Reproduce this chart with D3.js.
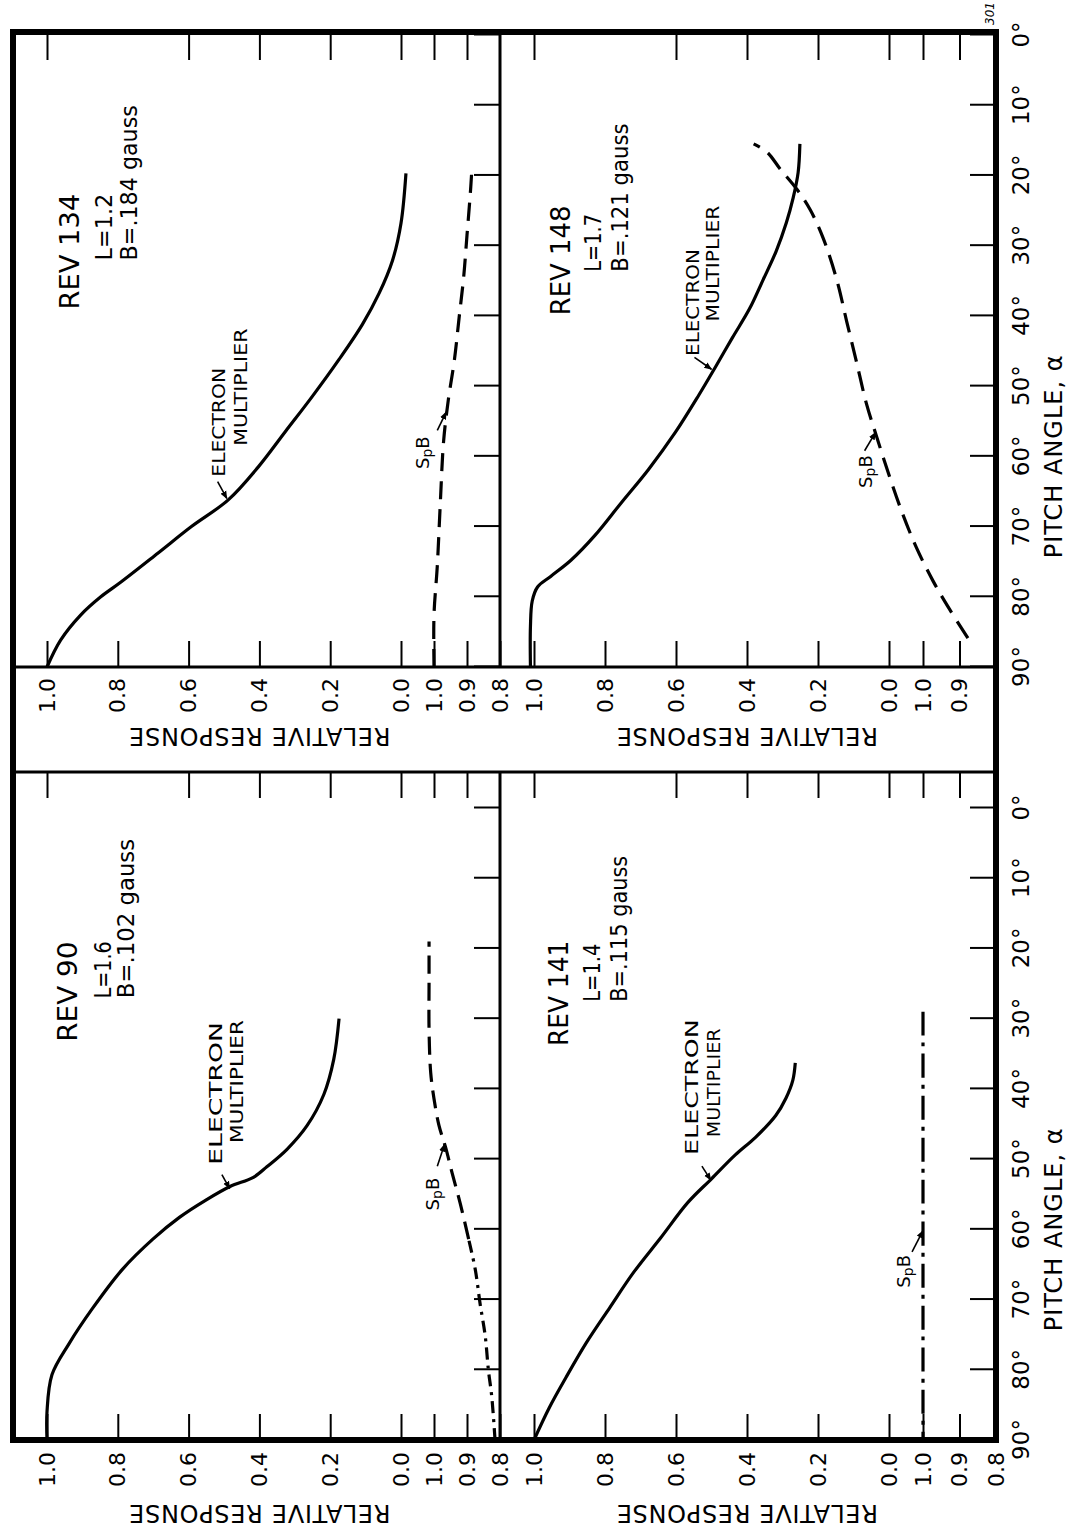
<!DOCTYPE html>
<html>
<head>
<meta charset="utf-8">
<script src="https://cdn.jsdelivr.net/npm/d3@7"></script>
<style>
  body { margin: 0; background: #fff; }
  svg { display: block; }
</style>
</head>
<body>
<svg></svg>
<script>
// tick values
const angleTicks = [90, 80, 70, 60, 50, 40, 30, 20, 10, 0];
const emTicks = [1.0, 0.8, 0.6, 0.4, 0.2, 0.0];
const spbTicks = [1.0, 0.9, 0.8];

// [pitch angle, relative response]
const rev90Em = [[90, 1.0], [86, 1.0], [80.7, 0.986], [76.3, 0.938], [71.3, 0.872], [65.7, 0.787],
  [61.4, 0.701], [58.3, 0.626], [55.8, 0.55], [53.9, 0.483], [52.6, 0.417], [51.1, 0.379],
  [48.6, 0.322], [45.2, 0.265], [40.8, 0.218], [35.8, 0.19], [30, 0.175]];
const rev90Spb = [[90, 0.815], [83.8, 0.825], [80.1, 0.835], [75.1, 0.845], [70.7, 0.86], [65.7, 0.875],
  [61.4, 0.895], [56.4, 0.92], [52, 0.945], [48.3, 0.965], [45.2, 0.985], [41.4, 1.0],
  [37.7, 1.01], [31.5, 1.015], [25.2, 1.015], [19, 1.015]];

const rev141Em = [[90, 1.0], [85.4, 0.957], [81.1, 0.91], [76.1, 0.852], [71.1, 0.786], [66.1, 0.719],
  [61.2, 0.643], [56.2, 0.567], [52.8, 0.5], [49.4, 0.433], [46.9, 0.376], [43.8, 0.319],
  [41.3, 0.29], [38.8, 0.271], [36.3, 0.264]];
const rev141Spb = [[29, 1.0], [45, 1.0], [60, 1.0], [75, 1.0], [90, 1.0]];

const rev134Em = [[90, 1.0], [86.2, 0.962], [82.6, 0.905], [80, 0.848], [77.9, 0.791], [73.8, 0.687],
  [70, 0.592], [66.2, 0.488], [61.5, 0.403], [56.5, 0.327], [51.5, 0.251], [46.2, 0.175],
  [41.2, 0.109], [36.8, 0.062], [32.1, 0.024], [26.8, 0.0], [19.7, -0.014]];
const rev134Spb = [[90, 1.0], [82.6, 1.0], [75.6, 0.99], [66.8, 0.981], [57.9, 0.971], [52.1, 0.957],
  [46.2, 0.938], [40.3, 0.924], [34.4, 0.91], [28.5, 0.9], [22.6, 0.89], [19.7, 0.886]];

const rev148Em = [[90, 1.01], [84.2, 1.01], [80.6, 1.005], [78.6, 0.99], [77.1, 0.953], [74.8, 0.896],
  [71.3, 0.829], [66.6, 0.754], [61.9, 0.678], [56.6, 0.602], [51.3, 0.536], [47.2, 0.488],
  [43.1, 0.441], [39, 0.393], [34.9, 0.355], [30.8, 0.318], [26.7, 0.289], [23.2, 0.27],
  [19.6, 0.256], [15.5, 0.251]];
const rev148Spb = [[85.9, 0.877], [81.8, 0.927], [77.7, 0.973], [73, 1.018], [68.3, 1.055], [63, 1.091],
  [57.2, 1.127], [52.5, 1.155], [46.6, 1.182], [40.8, 1.209], [34.9, 1.236], [29, 1.273],
  [24.9, 1.309], [22, 1.345], [19.1, 1.391], [16.7, 1.427], [15.5, 1.464]];

// the figure is drawn upright, then turned a quarter left like the scan
const font = "DejaVu Sans, Liberation Sans, sans-serif";
const cols = [
  { left: 91, a0: 723, right: 759, labelPad: 12, titleX: 26 },
  { left: 864, a0: 1496, right: 1497, labelPad: 11, titleX: 803 }
];
const rows = [
  { top: 13, em1: 47, em0: 401, spb1: 434, bottom: 500 },
  { top: 500, em1: 534, em0: 889, spb1: 923, bottom: 996 }
];

// label placement: [text, start angle, end angle, baseline value]
const panels = [
  {
    col: 0, row: 0, em: rev90Em, spb: rev90Spb,
    spbDash: "18,9", spbSplit: 61.4, spbDashLow: "12,6,3,6",
    head: [["REV 90", 33.3, 19.0, 0.915], ["L=1.6", 27.1, 19.0, 0.82], ["B=.102 gauss", 27.1, 4.4, 0.755]],
    elec: [50.8, 30.5, 0.507], mult: [47.7, 30.2, 0.447],
    emArrow: [[52.2, 0.506], [54.2, 0.484]],
    spbLabel: [57.3, 0.985], spbArrow: [[51.0, 0.99], [47.9, 0.968]]
  },
  {
    col: 0, row: 1, em: rev141Em, spb: rev141Spb,
    spbDash: "24,7,4,7",
    head: [["REV 141", 33.9, 18.9, 0.905], ["L=1.4", 27.6, 19.3, 0.814], ["B=.115 gauss", 27.6, 6.8, 0.738]],
    elec: [49.4, 30.1, 0.538], mult: [46.9, 31.4, 0.476],
    emArrow: [[51.0, 0.527], [53.0, 0.502]],
    spbLabel: [68.3, 1.035], spbArrow: [[63.2, 1.03], [60.2, 1.0]]
  },
  {
    col: 1, row: 0, em: rev134Em, spb: rev134Spb,
    spbDash: "18,10",
    head: [["REV 134", 39.1, 22.6, 0.91], ["L=1.2", 32.1, 22.6, 0.815], ["B=.184 gauss", 32.1, 10.0, 0.745]],
    elec: [62.9, 47.4, 0.498], mult: [58.5, 41.8, 0.436],
    emArrow: [[63.6, 0.518], [66.0, 0.492]],
    spbLabel: [61.8, 1.014], spbArrow: [[56.3, 0.99], [53.7, 0.963]]
  },
  {
    col: 1, row: 1, em: rev148Em, spb: rev148Spb,
    spbDash: "20,10", noBottomLabel: true,
    head: [["REV 148", 39.9, 24.3, 0.90], ["L=1.7", 33.7, 25.5, 0.81], ["B=.121 gauss", 33.7, 12.6, 0.735]],
    elec: [45.7, 30.5, 0.536], mult: [40.8, 24.3, 0.479],
    emArrow: [[45.9, 0.548], [47.6, 0.5]],
    spbLabel: [64.5, 1.141], spbArrow: [[59.2, 1.16], [56.6, 1.13]]
  }
];

const svg = d3.select("svg").attr("width", 1070).attr("height", 1531);
svg.append("rect").attr("width", 1070).attr("height", 1531).attr("fill", "#fff");

svg.append("defs").append("marker")
  .attr("id", "arrow")
  .attr("viewBox", "0 0 10 10")
  .attr("refX", 9)
  .attr("refY", 5)
  .attr("markerWidth", 5)
  .attr("markerHeight", 5)
  .attr("orient", "auto")
  .append("path")
  .attr("d", "M0,1L10,5L0,9z")
  .attr("fill", "#000");

const chart = svg.append("g")
  .attr("transform", "translate(0,1531) rotate(-90)")
  .attr("font-family", font)
  .attr("fill", "#000");

function styleAxis(g, size) {
  g.select(".domain").remove();
  g.selectAll(".tick line").attr("stroke", "#000").attr("stroke-width", 2);
  g.selectAll(".tick text").attr("fill", "#000").attr("font-size", size);
  g.attr("font-family", font);
}

panels.forEach(p => {
  const col = cols[p.col];
  const row = rows[p.row];
  const x = d3.scaleLinear().domain([90, 0]).range([col.left, col.a0]);
  const yEm = d3.scaleLinear().domain([0, 1]).range([row.em0, row.em1]);
  const ySpb = d3.scaleLinear().domain([0.8, 1.0]).range([row.bottom, row.spb1]);
  const g = chart.append("g");

  // value ticks with labels on the left edge
  const spbLabelled = p.noBottomLabel ? spbTicks.filter(t => t !== 0.8) : spbTicks;
  [[yEm, emTicks, emTicks], [ySpb, spbLabelled, spbTicks]].forEach(([y, ticks, allTicks]) => {
    g.append("g")
      .attr("transform", `translate(${col.left},0)`)
      .call(d3.axisLeft(y).tickValues(ticks).tickSize(-26).tickPadding(col.labelPad).tickFormat(d3.format(".1f")))
      .call(a => styleAxis(a, 22));
    g.append("g")
      .attr("transform", `translate(${col.right},0)`)
      .call(d3.axisRight(y).tickValues(allTicks.filter(t => t !== 0.8)).tickSize(-26).tickFormat(""))
      .call(a => styleAxis(a, 22));
  });

  // pitch angle ticks along the bottom of each panel
  const xAxis = d3.axisBottom(x).tickValues(angleTicks).tickSize(-26).tickPadding(17);
  if (p.row === 1) xAxis.tickFormat(d => d + "°");
  else xAxis.tickFormat("");
  g.append("g")
    .attr("transform", `translate(0,${row.bottom})`)
    .call(xAxis)
    .call(a => styleAxis(a, 23));

  // curves
  const emLine = d3.line().x(d => x(d[0])).y(d => yEm(d[1])).curve(d3.curveCatmullRom.alpha(0.5));
  const spbLine = d3.line().x(d => x(d[0])).y(d => ySpb(d[1])).curve(d3.curveCatmullRom.alpha(0.5));

  g.append("path")
    .attr("d", emLine(p.em))
    .attr("fill", "none")
    .attr("stroke", "#000")
    .attr("stroke-width", 3.2);

  if (p.spbSplit) {
    g.append("path")
      .attr("d", spbLine(p.spb.filter(d => d[0] >= p.spbSplit)))
      .attr("fill", "none").attr("stroke", "#000").attr("stroke-width", 3.2)
      .attr("stroke-dasharray", p.spbDashLow);
    g.append("path")
      .attr("d", spbLine(p.spb.filter(d => d[0] <= p.spbSplit)))
      .attr("fill", "none").attr("stroke", "#000").attr("stroke-width", 3.2)
      .attr("stroke-dasharray", p.spbDash);
  } else {
    g.append("path")
      .attr("d", spbLine(p.spb))
      .attr("fill", "none").attr("stroke", "#000").attr("stroke-width", 3.2)
      .attr("stroke-dasharray", p.spbDash);
  }

  // panel heading
  p.head.forEach((h, i) => {
    g.append("text")
      .attr("x", x(h[1]))
      .attr("y", yEm(h[3]))
      .attr("font-size", i === 0 ? 26 : 23)
      .attr("textLength", x(h[2]) - x(h[1]))
      .attr("lengthAdjust", "spacingAndGlyphs")
      .text(h[0]);
  });

  // curve labels
  [["ELECTRON", p.elec], ["MULTIPLIER", p.mult]].forEach(([s, pos]) => {
    g.append("text")
      .attr("x", x(pos[0]))
      .attr("y", yEm(pos[2]))
      .attr("font-size", 17)
      .attr("textLength", x(pos[1]) - x(pos[0]))
      .attr("lengthAdjust", "spacingAndGlyphs")
      .text(s);
  });

  g.append("line")
    .attr("x1", x(p.emArrow[0][0])).attr("y1", yEm(p.emArrow[0][1]))
    .attr("x2", x(p.emArrow[1][0])).attr("y2", yEm(p.emArrow[1][1]))
    .attr("stroke", "#000").attr("stroke-width", 1.6)
    .attr("marker-end", "url(#arrow)");

  const spbText = g.append("text")
    .attr("x", x(p.spbLabel[0]))
    .attr("y", ySpb(p.spbLabel[1]))
    .attr("font-size", 18);
  spbText.append("tspan").text("S");
  spbText.append("tspan").attr("font-size", 14).attr("dy", 3).text("p");
  spbText.append("tspan").attr("dy", -3).text("B");

  g.append("line")
    .attr("x1", x(p.spbArrow[0][0])).attr("y1", ySpb(p.spbArrow[0][1]))
    .attr("x2", x(p.spbArrow[1][0])).attr("y2", ySpb(p.spbArrow[1][1]))
    .attr("stroke", "#000").attr("stroke-width", 1.6)
    .attr("marker-end", "url(#arrow)");

  // axis titles
  g.append("text")
    .attr("transform", `translate(${col.titleX},${yEm(0.4)}) rotate(-90)`)
    .attr("text-anchor", "middle")
    .attr("font-size", 24)
    .attr("letter-spacing", 0.7)
    .text("RELATIVE RESPONSE");

  if (p.row === 1) {
    g.append("text")
      .attr("x", x(60))
      .attr("y", 1062)
      .attr("text-anchor", "middle")
      .attr("font-size", 24)
      .attr("letter-spacing", 1)
      .text("PITCH ANGLE, α");
  }
});

// frame and dividers
chart.append("rect")
  .attr("x", 91).attr("y", 13)
  .attr("width", 1499 - 91).attr("height", 996 - 13)
  .attr("fill", "none").attr("stroke", "#000").attr("stroke-width", 6);

[cols[0].right, cols[1].left].forEach(xv => {
  chart.append("line")
    .attr("x1", xv).attr("x2", xv).attr("y1", 13).attr("y2", 996)
    .attr("stroke", "#000").attr("stroke-width", 3);
});

chart.append("line")
  .attr("x1", 91).attr("x2", cols[0].right).attr("y1", rows[0].bottom).attr("y2", rows[0].bottom)
  .attr("stroke", "#000").attr("stroke-width", 3);
chart.append("line")
  .attr("x1", cols[1].left).attr("x2", 1499).attr("y1", rows[0].bottom).attr("y2", rows[0].bottom)
  .attr("stroke", "#000").attr("stroke-width", 3);

chart.append("text")
  .attr("x", 1506).attr("y", 994)
  .attr("font-size", 12).attr("font-style", "italic")
  .text("301");
</script>
</body>
</html>
